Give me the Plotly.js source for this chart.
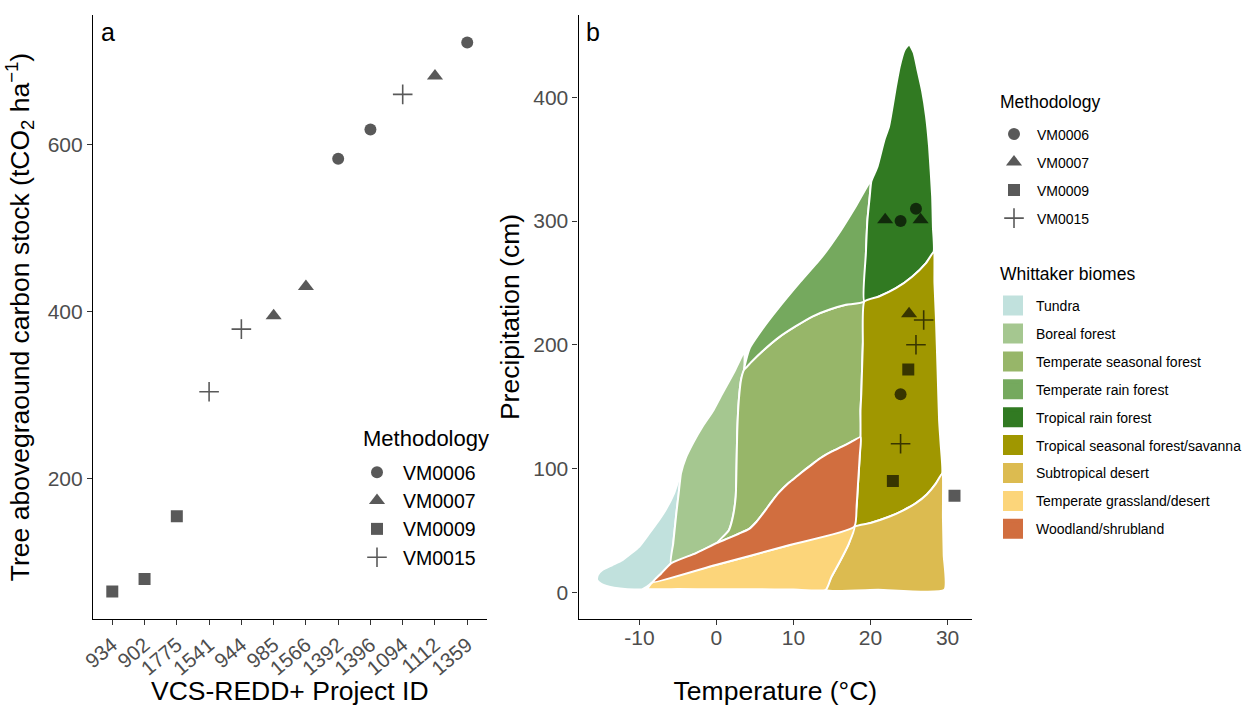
<!DOCTYPE html>
<html><head><meta charset="utf-8">
<script src="https://cdn.plot.ly/plotly-3.0.1.min.js"></script>
<style>html,body{margin:0;padding:0;background:#fff}#chart{width:1247px;height:706px}</style>
</head><body><div id="chart"></div>
<script>
// ---------- Panel a data ----------
const projectIds = ['934','902','1775','1541','944','985','1566','1392','1396','1094','1112','1359'];
const carbonStock = [65, 80, 155, 304, 379, 395, 430, 583, 618, 660, 682, 722];
const methodologyA = ['VM0009','VM0009','VM0009','VM0015','VM0015','VM0007','VM0007','VM0006','VM0006','VM0015','VM0007','VM0006'];

// ---------- Panel b data (project sites) ----------
const siteTemp   = [21.9, 23.9, 25.9, 26.5, 25.0, 26.9, 25.9, 24.9, 23.9, 23.9, 22.9, 30.9];
const sitePrecip = [301, 300, 310, 301, 225, 220, 200, 180, 160, 120, 90, 78];
const methodologyB = ['VM0007','VM0006','VM0006','VM0007','VM0007','VM0015','VM0015','VM0009','VM0006','VM0015','VM0009','VM0009'];

const methodologies = ['VM0006','VM0007','VM0009','VM0015'];
const methodSymbols = ['circle','triangle-up','square','cross-thin'];
const methodSizes = [12, 14, 12, 14];

// ---------- Whittaker biome polygons (temperature °C, precipitation cm) ----------
const biomeNames = ['Tundra','Boreal forest','Temperate seasonal forest','Temperate rain forest','Tropical rain forest','Tropical seasonal forest/savanna','Subtropical desert','Temperate grassland/desert','Woodland/shrubland'];
const biomeColors = ['#C1E1DD','#A5C790','#97B669','#75A95E','#317A22','#A09700','#DCBB50','#FCD57A','#D16E3F'];

const tundraTemp   = [-9.6,-10.7,-12.5,-13.9,-15.0,-15.5,-15.4,-14.8,-13.5,-12.2,-10.0,-8.7,-7.6,-6.6,-5.5,-4.6,-4.9,-5.2,-5.6,-5.9,-7.2,-8.3,-9.6];
const tundraPrecip = [2.5,2.2,3.0,4.5,7.0,10.0,14.0,18.0,22.0,26.0,37.0,47.7,57.0,66.5,80.0,96.2,80.0,64.0,40.0,23.4,15.0,8.0,2.5];

const borealTemp   = [-5.9,-5.6,-5.2,-4.9,-4.6,-4.0,-3.0,-1.8,-0.4,0.8,2.3,3.6,3.6,3.2,2.9,2.7,2.6,2.5,2.1,1.6,0.1,-2.7,-5.9];
const borealPrecip = [23.4,40.0,64.0,80.0,96.2,108.3,121.0,134.0,147.0,161.0,178.0,194.0,180.0,172.0,155.0,130.0,100.0,77.0,60.0,50.0,40.0,31.5,23.4];

const tempSeasonalTemp   = [0.1,1.6,2.1,2.5,2.6,2.7,2.9,3.2,3.6,4.5,6.0,8.1,10.3,12.5,14.7,16.8,19.2,19.0,18.9,18.8,18.7,18.7,17.5,16.3,15.0,13.7,12.7,11.6,10.5,9.4,8.1,7.2,6.2,5.2,4.2,2.9,1.5,0.1];
const tempSeasonalPrecip = [40.0,50.0,60.0,77.0,100.0,130.0,155.0,172.0,180.0,186.0,195.0,206.0,215.0,223.0,228.5,232.3,235.0,200.0,180.0,160.0,147.0,125.3,121.5,117.7,113.8,109.2,104.8,99.5,94.0,88.5,80.5,73.5,65.0,57.0,51.0,47.3,43.5,40.0];

const tempRainTemp   = [3.6,4.3,6.0,8.1,10.9,13.7,16.0,18.1,20.0,19.9,19.6,19.4,19.2,16.8,14.7,12.5,10.3,8.1,6.0,4.5,3.6];
const tempRainPrecip = [180.0,197.0,213.0,230.0,251.0,271.0,291.0,312.0,332.0,320.0,301.0,274.0,235.0,232.3,228.5,223.0,215.0,206.0,195.0,186.0,180.0];

const tropRainTemp   = [19.2,19.4,19.6,19.9,20.1,20.5,20.9,21.8,22.4,23.3,23.8,24.4,25.0,25.6,26.1,26.7,27.2,27.6,28.0,28.1,28.2,27.2,25.4,23.3,21.1,19.2];
const tropRainPrecip = [235.0,274.0,301.0,320.0,332.0,338.0,344.0,365.6,376.4,408.7,425.0,438.0,442.6,436.0,422.0,405.0,385.0,360.0,319.8,295.0,275.0,266.0,255.0,245.7,239.0,235.0];

const tropSeasonalTemp   = [17.9,18.2,18.4,18.6,18.7,18.7,18.8,18.9,19.0,19.2,21.1,23.3,25.4,27.2,28.2,28.3,28.5,28.7,28.9,29.1,29.3,28.5,27.3,25.9,24.2,22.4,20.0,17.9];
const tropSeasonalPrecip = [53.0,70.0,90.0,110.0,125.3,147.0,160.0,180.0,200.0,235.0,239.0,245.7,255.0,266.0,275.0,250.0,220.0,180.0,139.0,120.0,96.0,88.0,79.0,72.0,66.0,61.0,56.0,53.0];

const subDesertTemp   = [14.2,21.0,29.6,29.5,29.4,29.3,28.5,27.3,25.9,24.2,22.4,20.0,17.9,17.2,15.9,14.9,14.2];
const subDesertPrecip = [2.0,2.0,2.0,30.0,60.0,96.0,88.0,79.0,72.0,66.0,61.0,56.0,53.0,39.6,23.4,12.0,2.0];

const grasslandTemp   = [-8.9,-5.0,0.0,5.0,10.0,14.2,14.9,15.9,17.2,17.9,9.4,-0.1,-8.3,-8.9];
const grasslandPrecip = [3.0,2.6,2.5,2.4,2.2,2.0,12.0,23.4,39.6,53.0,38.0,22.0,8.0,3.0];

const woodlandTemp   = [-8.3,-7.2,-5.9,-2.7,0.1,1.5,2.9,4.2,5.2,6.2,7.2,8.1,9.4,10.5,11.6,12.7,13.7,15.0,16.3,17.5,18.7,18.6,18.4,18.2,17.9,9.4,-0.1,-8.3];
const woodlandPrecip = [8.0,15.0,23.4,31.5,40.0,43.5,47.3,51.0,57.0,65.0,73.5,80.5,88.5,94.0,99.5,104.8,109.2,113.8,117.7,121.5,125.3,110.0,90.0,70.0,53.0,38.0,22.0,8.0];

const biomeTemps   = [tundraTemp, borealTemp, tempSeasonalTemp, tempRainTemp, tropRainTemp, tropSeasonalTemp, subDesertTemp, grasslandTemp, woodlandTemp];
const biomePrecips = [tundraPrecip, borealPrecip, tempSeasonalPrecip, tempRainPrecip, tropRainPrecip, tropSeasonalPrecip, subDesertPrecip, grasslandPrecip, woodlandPrecip];

// ---------- Axis ticks / legend titles ----------
const yTicksA = [200, 400, 600];
const xTicksB = [-10, 0, 10, 20, 30];
const xTickTextB = ['-10', '0', '10', '20', '30'];
const yTicksB = [0, 100, 200, 300, 400];
const methodologyTitle = 'Methodology';
const biomeTitle = 'Whittaker biomes';

const FONT = 'Liberation Sans, Arial, Helvetica, sans-serif';
const pointColor = 'rgba(0,0,0,0.65)';

const traces = [];

// Panel a
methodologies.forEach((m, k) => {
  const xs = [], ys = [];
  projectIds.forEach((id, i) => { if (methodologyA[i] === m) { xs.push(id); ys.push(carbonStock[i]); } });
  const isCross = methodSymbols[k] === 'cross-thin';
  traces.push({
    type: 'scatter', mode: 'markers', x: xs, y: ys, xaxis: 'x', yaxis: 'y',
    name: m, legend: 'legend',
    marker: { symbol: methodSymbols[k], size: methodSizes[k], color: pointColor,
      line: isCross ? { color: pointColor, width: 1.6 } : { width: 0 } },
    hoverinfo: 'x+y'
  });
});

// Panel b polygons
biomeNames.forEach((b, i) => {
  traces.push({
    type: 'scatter', mode: 'lines', x: biomeTemps[i], y: biomePrecips[i], xaxis: 'x2', yaxis: 'y2',
    fill: 'toself', fillcolor: biomeColors[i], line: { color: '#ffffff', width: 2, shape: 'spline', smoothing: 0.5 },
    showlegend: false, legendgroup: 'biome' + i, name: b, hoverinfo: 'skip'
  });
});

// Panel b points
methodologies.forEach((m, k) => {
  const xs = [], ys = [];
  siteTemp.forEach((t, i) => { if (methodologyB[i] === m) { xs.push(t); ys.push(sitePrecip[i]); } });
  const isCross = methodSymbols[k] === 'cross-thin';
  traces.push({
    type: 'scatter', mode: 'markers', x: xs, y: ys, xaxis: 'x2', yaxis: 'y2',
    name: m, legend: 'legend2', legendgroup: 'mb' + k,
    marker: { symbol: methodSymbols[k], size: methodSizes[k], color: pointColor,
      line: isCross ? { color: pointColor, width: 1.6 } : { width: 0 } },
    hoverinfo: 'x+y'
  });
});

// Biome legend keys
biomeNames.forEach((b, i) => {
  traces.push({
    type: 'scatter', mode: 'markers', x: [null], y: [null], xaxis: 'x2', yaxis: 'y2',
    name: b, legend: 'legend3', legendgroup: 'biome' + i,
    marker: { symbol: 'square', size: 16, color: biomeColors[i], line: { color: biomeColors[i], width: 4 } },
    hoverinfo: 'skip'
  });
});

const W = 1247, H = 706;
const axisCommon = {
  showline: true, linecolor: '#000', linewidth: 1.1, mirror: false,
  ticks: 'outside', ticklen: 5, tickcolor: '#333', tickwidth: 1.1,
  showgrid: false, zeroline: false,
  tickfont: { family: FONT, size: 21, color: '#4D4D4D' }
};
const titleFont = { family: FONT, size: 26.5, color: '#000' };

const layout = {
  width: W, height: H,
  margin: { l: 0, r: 0, t: 0, b: 0 },
  paper_bgcolor: '#fff', plot_bgcolor: 'rgba(0,0,0,0)',
  font: { family: FONT, color: '#000' },
  xaxis: Object.assign({}, axisCommon, {
    domain: [93 / W, 487 / W], anchor: 'y',
    type: 'category', categoryorder: 'array', categoryarray: projectIds,
    range: [-0.6, 11.6], tickangle: -40,
    tickfont: { family: FONT, size: 20.5, color: '#4D4D4D' },
    title: { text: 'VCS-REDD+ Project ID', font: titleFont, standoff: 13 }
  }),
  yaxis: Object.assign({}, axisCommon, {
    domain: [1 - 619 / H, 1 - 15 / H], anchor: 'x',
    range: [32, 755], tickvals: yTicksA,
    title: { text: 'Tree abovegraound carbon stock (tCO<sub>2</sub> ha<sup>−1</sup>)', font: titleFont, standoff: 10 }
  }),
  xaxis2: Object.assign({}, axisCommon, {
    domain: [579 / W, 973 / W], anchor: 'y2',
    range: [-17.9, 33.2], tickvals: xTicksB, ticktext: xTickTextB,
    ticklabelstandoff: -5,
    title: { text: 'Temperature (°C)', font: titleFont, standoff: 41 }
  }),
  yaxis2: Object.assign({}, axisCommon, {
    domain: [1 - 619 / H, 1 - 15 / H], anchor: 'x2',
    range: [-21.6, 466.5], tickvals: yTicksB,
    title: { text: 'Precipitation (cm)', font: titleFont, standoff: 5 }
  }),
  legend: {
    x: 351 / W, y: 1 - 453 / H, xanchor: 'left', yanchor: 'top',
    bgcolor: 'rgba(0,0,0,0)', borderwidth: 0, tracegroupgap: 0, itemwidth: 42,
    font: { family: FONT, size: 19.5, color: '#000' }
  },
  legend2: {
    x: 991 / W, y: 1 - 118.5 / H, xanchor: 'left', yanchor: 'top',
    bgcolor: 'rgba(0,0,0,0)', borderwidth: 0, tracegroupgap: 6.8, itemwidth: 36,
    font: { family: FONT, size: 14, color: '#000' }
  },
  legend3: {
    x: 991 / W, y: 1 - 290 / H, xanchor: 'left', yanchor: 'top',
    bgcolor: 'rgba(0,0,0,0)', borderwidth: 0, tracegroupgap: 6.7, itemwidth: 36,
    font: { family: FONT, size: 14, color: '#000' }
  },
  annotations: [
    { text: 'a', xref: 'x domain', yref: 'y domain', x: 0.015, y: 0.998, xanchor: 'left', yanchor: 'top', showarrow: false, font: { family: FONT, size: 25, color: '#000' } },
    { text: 'b', xref: 'x2 domain', yref: 'y2 domain', x: 0.015, y: 0.998, xanchor: 'left', yanchor: 'top', showarrow: false, font: { family: FONT, size: 25, color: '#000' } },
    { text: methodologyTitle, xref: 'paper', yref: 'paper', x: 361 / W, y: 1 - 438 / H, xanchor: 'left', yanchor: 'middle', showarrow: false, font: { family: FONT, size: 22, color: '#000' } },
    { text: methodologyTitle, xref: 'paper', yref: 'paper', x: 998.5 / W, y: 1 - 102 / H, xanchor: 'left', yanchor: 'middle', showarrow: false, font: { family: FONT, size: 17.5, color: '#000' } },
    { text: biomeTitle, xref: 'paper', yref: 'paper', x: 998.5 / W, y: 1 - 274 / H, xanchor: 'left', yanchor: 'middle', showarrow: false, font: { family: FONT, size: 17.5, color: '#000' } }
  ],
  showlegend: true
};

Plotly.newPlot('chart', traces, layout, { displayModeBar: false });
</script>
</body></html>
